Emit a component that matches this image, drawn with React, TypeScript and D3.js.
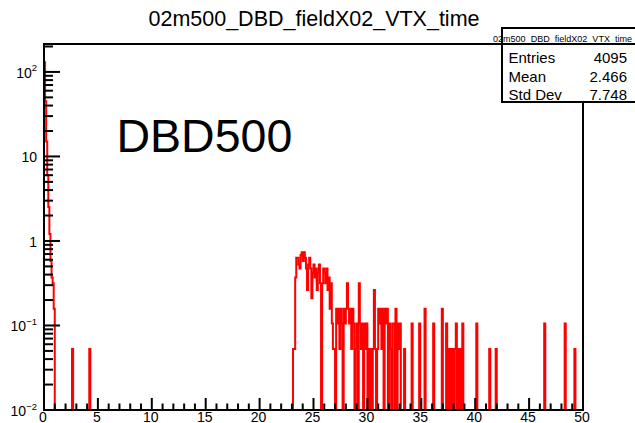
import * as d3 from "d3";
import React from "react";

// histogram: 500 bins of 0.1 from 0 to 50, counts in units of 1/19
const binWidth = 0.1;
const nBins = 500;
const unit = 1 / 19;

// bins 0..9 (prompt peak)
const peakCounts = [2471, 855, 285, 114, 48, 23, 11, 7, 6, 3];

// lone entries before the cluster
const earlyBins = [26, 42];
const earlyCounts = [1, 1];

// bins 231..334 (main late cluster)
const clusterStart = 231;
const clusterCounts = [
  1, 1, 7, 12, 12, 10, 9, 13, 14, 11,
  14, 12, 9, 5, 10, 12, 9, 4, 8, 10,
  7, 9, 5, 8, 10, 6, 0, 6, 9, 8,
  6, 9, 5, 7, 3, 6, 2, 1, 1, 0,
  3, 2, 3, 1, 3, 2, 0, 3, 2, 3,
  6, 3, 2, 3, 1, 3, 2, 0, 1, 2,
  0, 6, 2, 1, 2, 0, 2, 1, 2, 0,
  1, 0, 1, 0, 1, 5, 1, 0, 1, 3,
  2, 3, 1, 3, 0, 3, 2, 3, 0, 2,
  1, 0, 2, 2, 0, 3, 0, 2, 1, 2,
  0, 0, 0, 1,
];

// sparse tail
const tailBins = [341, 348, 353, 361, 369, 373, 375, 377, 379, 381, 382, 384, 386, 388, 401, 413, 419, 464, 483, 492];
const tailCounts = [2, 2, 3, 2, 3, 2, 1, 1, 1, 1, 2, 1, 1, 2, 2, 1, 1, 2, 2, 1];

const xMajor = [0, 5, 10, 15, 20, 25, 30, 35, 40, 45, 50];
const yMajor = [0.01, 0.1, 1, 10, 100];
const yLabels = [
  { base: "10", sup: "\u22122" },
  { base: "10", sup: "\u22121" },
  { base: "1", sup: "" },
  { base: "10", sup: "" },
  { base: "10", sup: "2" },
];

const title = "02m500_DBD_fieldX02_VTX_time";
const statNames = ["Entries", "Mean", "Std Dev"];
const statValues = ["4095", "2.466", "7.748"];

const W = 635;
const H = 423;
const margin = { top: 44, right: 52, bottom: 13, left: 44 };
const font = "'Liberation Sans', Arial, Helvetica, sans-serif";

export default function App() {
  const yMin = 0.01;
  const x = d3.scaleLinear().domain([0, 50]).range([margin.left, W - margin.right]);
  const y = d3.scaleLog().domain([yMin, 214]).range([H - margin.bottom, margin.top]).clamp(true);

  const counts = new Array(nBins).fill(0);
  peakCounts.forEach((c, i) => (counts[i] = c));
  earlyBins.forEach((b, i) => (counts[b] = earlyCounts[i]));
  clusterCounts.forEach((c, i) => (counts[clusterStart + i] = c));
  tailBins.forEach((b, i) => (counts[b] = tailCounts[i]));

  const pts: [number, number][] = counts.map((c, i) => [i * binWidth, c > 0 ? c * unit : yMin]);
  pts.push([nBins * binWidth, pts[pts.length - 1][1]]);

  const line = d3
    .line<[number, number]>()
    .x((d) => x(d[0]))
    .y((d) => y(d[1]))
    .curve(d3.curveStepAfter);

  const xMinor = d3.range(0, 51, 1).filter((v) => v % 5 !== 0);
  const yMinor: number[] = [];
  for (let e = -2; e <= 2; e++) {
    for (let k = 2; k <= 9; k++) {
      const v = k * Math.pow(10, e);
      if (v < 214) yMinor.push(v);
    }
  }

  const y0 = H - margin.bottom;
  const x0 = margin.left;
  const box = { x: 502, y: 28, w: 160, h: 74 };

  return (
    <svg width={W} height={H} style={{ position: "absolute", left: 0, top: 0, background: "#fff" }} fontFamily={font}>
      <rect x={0} y={0} width={W} height={H} fill="#fff" />
      <text x={314} y={25.5} fontSize={21.5} textAnchor="middle" fill="#000">
        {title}
      </text>

      <path d={line(pts) ?? ""} fill="none" stroke="#ff0000" strokeWidth={2} />

      {/* frame */}
      <rect
        x={x0}
        y={margin.top}
        width={W - margin.right - x0}
        height={y0 - margin.top}
        fill="none"
        stroke="#000"
        strokeWidth={2}
      />

      {/* x ticks */}
      {xMajor.map((v) => (
        <g key={"xm" + v}>
          <line x1={x(v)} x2={x(v)} y1={y0} y2={y0 - 12} stroke="#000" strokeWidth={2} />
          <text x={x(v) - 1} y={421.5} fontSize={14} textAnchor="middle" fill="#000">
            {v}
          </text>
        </g>
      ))}
      {xMinor.map((v) => (
        <line key={"xn" + v} x1={x(v)} x2={x(v)} y1={y0} y2={y0 - 6.5} stroke="#000" strokeWidth={2} />
      ))}

      {/* y ticks */}
      {yMajor.map((v, i) => (
        <g key={"ym" + v}>
          <line x1={x0} x2={x0 + 16} y1={y(v)} y2={y(v)} stroke="#000" strokeWidth={2} />
          <text x={37} y={y(v) + 6} fontSize={14} textAnchor="end" fill="#000">
            {yLabels[i].base}
            {yLabels[i].sup && (
              <tspan fontSize={9.5} dy={-6.5}>
                {yLabels[i].sup}
              </tspan>
            )}
          </text>
        </g>
      ))}
      {yMinor.map((v) => (
        <line key={"yn" + v} x1={x0} x2={x0 + 9} y1={y(v)} y2={y(v)} stroke="#000" strokeWidth={2} />
      ))}

      {/* label */}
      <text x={116.5} y={151.7} fontSize={46.5} fill="#000">
        DBD500
      </text>

      {/* stats box */}
      <rect x={box.x} y={box.y} width={box.w} height={box.h} fill="#fff" stroke="#000" strokeWidth={2} />
      <line x1={box.x} x2={box.x + box.w} y1={margin.top} y2={margin.top} stroke="#000" strokeWidth={2} />
      <text x={562.5} y={42} fontSize={9} textAnchor="middle" fill="#000" textLength={139} lengthAdjust="spacingAndGlyphs">
        {title}
      </text>
      {statNames.map((s, i) => (
        <g key={s}>
          <text x={508.5} y={63 + i * 18.5} fontSize={15} fill="#000">
            {s}
          </text>
          <text x={627} y={63 + i * 18.5} fontSize={15} textAnchor="end" fill="#000">
            {statValues[i]}
          </text>
        </g>
      ))}
      <line x1={W - margin.right} x2={W - margin.right} y1={box.y + box.h} y2={box.y + box.h + 8} stroke="#000" strokeWidth={2} />
    </svg>
  );
}
